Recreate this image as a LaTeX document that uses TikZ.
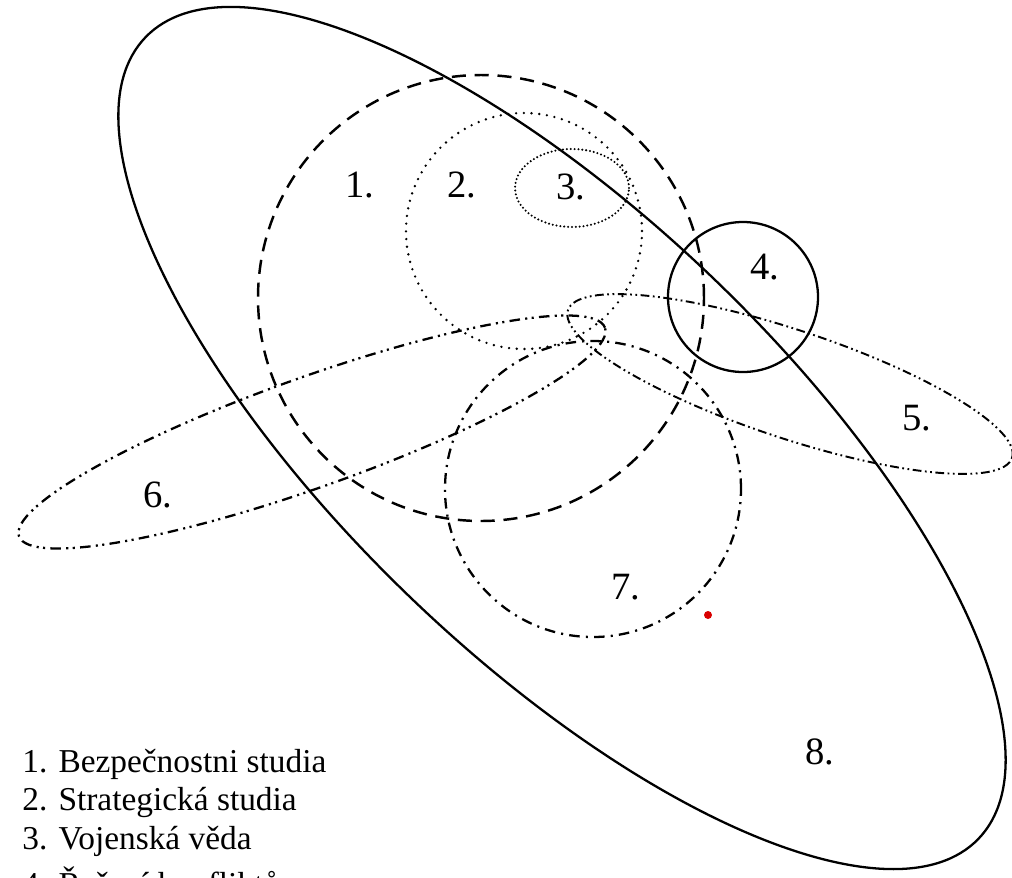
\documentclass[tikz,border=0pt]{standalone}
\usepackage{fontspec}
\setmainfont{Liberation Serif}
\begin{document}
\begin{tikzpicture}[x=0.02cm,y=0.02cm,
  solidline/.style={line width=1.3pt},
  dashline/.style={line width=1.4pt, dash pattern=on 8pt off 5pt},
  dotline/.style={line width=1.5pt, line cap=round, dash pattern=on 0pt off 4.4pt},
  densedot/.style={line width=1.3pt, line cap=round, dash pattern=on 0pt off 2.2pt},
  ddotline/.style={line width=1.1pt, dash pattern=on 5pt off 2pt on 1pt off 2pt on 1pt off 2pt},
  ddotthick/.style={line width=1.3pt, dash pattern=on 6pt off 3pt on 1.2pt off 2.5pt on 1.2pt off 3pt},
  dashdot/.style={line width=1.3pt, dash pattern=on 6pt off 3.5pt on 1.2pt off 3.5pt},
  lbl/.style={font=\fontsize{22}{24}\selectfont, inner sep=0pt},
  legend/.style={font=\fontsize{19}{22}\selectfont, inner sep=0pt, anchor=base west}
]
\useasboundingbox (0,0) rectangle (1012,-877);
\clip (0,0) rectangle (1012,-877);
\fill[white] (0,0) rectangle (1012,-877);

% 8 - large solid ellipse
\draw[solidline, rotate around={-43.9:(562,-438)}] (562,-438) ellipse [x radius=578, y radius=220];
% 1 - dashed
\draw[dashline] (481,-298) circle [radius=223];
% 2 - dotted
\draw[dotline] (524,-231) circle [radius=118];
% 3 - dense dotted
\draw[densedot] (572,-188) ellipse [x radius=57, y radius=39];
% 4 - solid
\draw[solidline] (743,-297) circle [radius=75];
% 5 - dash dot dot thin
\draw[ddotline, rotate around={-18.4:(790,-384)}] (790,-384) ellipse [x radius=234, y radius=54];
% 6 - dash dot dot
\draw[ddotthick, rotate around={19.6:(312,-432)}] (312,-432) ellipse [x radius=311, y radius=55];
% 7 - dash dot
\draw[dashdot] (593,-489) circle [radius=148];
% red dot
\fill[red!85!black] (708,-615) circle [radius=4];

% labels
\node[lbl] (l1) at (360,-185) {1.};
\node[lbl] (l2) at (462,-185) {2.};
\node[lbl] (l3) at (571,-187) {3.};
\node[lbl] (l4) at (765,-267) {4.};
\node[lbl] (l5) at (917,-418) {5.};
\node[lbl] (l6) at (158,-495) {6.};
\node[lbl] (l7) at (626,-587) {7.};
\node[lbl] (l8) at (820,-752) {8.};

% legend
\node[legend] (g1) at (22,-772) {1. Bezpečnostni studia};
\node[legend] (g2) at (22,-810) {2. Strategická studia};
\node[legend] (g3) at (22,-849) {3. Vojenská věda};
\node[legend] (g4) at (22,-895) {4. Řešení konfliktů};
\end{tikzpicture}
\end{document}
